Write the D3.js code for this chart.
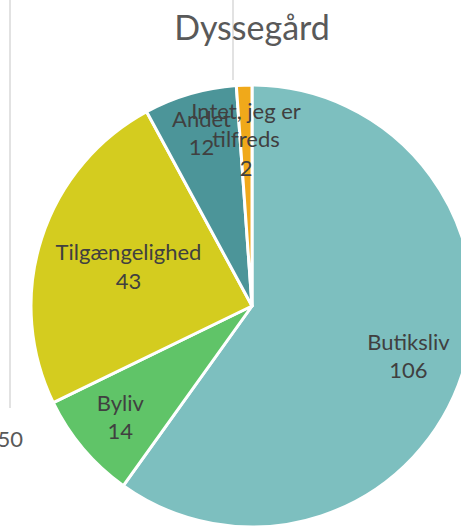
<!DOCTYPE html>
<html>
<head>
<meta charset="utf-8">
<script src="https://cdn.jsdelivr.net/npm/d3@7"></script>
<style>
  html, body { margin: 0; padding: 0; background: #fff; overflow: hidden; }
  svg { display: block; font-family: Lato, "Noto Sans", sans-serif; }
</style>
</head>
<body>
<div id="chart"></div>
<script>

var categories = ["Butiksliv", "Byliv", "Tilgængelighed", "Andet", "Intet, jeg er tilfreds"];
var values = [106, 14, 43, 12, 2];
var colors = ["#7dbfbf", "#60c468", "#d4cc1f", "#4c9599", "#f0a91a"];
// label lines as Excel wraps them
var labelLines = [["Butiksliv"], ["Byliv"], ["Tilgængelighed"], ["Andet"], ["Intet, jeg er", "tilfreds"]];

function drawPie(containerId){

    var width = 461, height = 529;
    var cx = 252, cy = 306, radius = 221;

    var svg = d3.select('#'+containerId).append("svg")
        .attr("width", width)
        .attr("height", height);

    // leftovers of the neighbouring chart
    svg.append("line")
        .attr("x1", 10).attr("x2", 10)
        .attr("y1", 0).attr("y2", 408)
        .style("stroke", "#d9d9d9")
        .style("stroke-width", 1.5);
    svg.append("line")
        .attr("x1", 233).attr("x2", 233)
        .attr("y1", 0).attr("y2", 80)
        .style("stroke", "#d9d9d9")
        .style("stroke-width", 1.5);
    svg.append("text")
        .attr("x", 23)
        .attr("y", 447)
        .attr("text-anchor", "end")
        .attr("font-size", 22)
        .attr("fill", "#595959")
        .text("50");

    svg.append("text")
        .attr("class", "title")
        .attr("x", 252)
        .attr("y", 40)
        .attr("text-anchor", "middle")
        .attr("font-size", 34)
        .attr("fill", "#595959")
        .text("Dyssegård");

    var data = categories.map(function(c, i){
        return {name: c, value: values[i], color: colors[i], lines: labelLines[i].concat([String(values[i])])};
    });

    var pie = d3.pie()
        .sort(null)
        .value(function(d){ return d.value; });

    var arc = d3.arc()
        .innerRadius(0)
        .outerRadius(radius);

    // how far out Excel's "best fit" put each label
    var labelRadius = {"Butiksliv": 0.743, "Byliv": 0.78, "Tilgængelighed": 0.587, "Andet": 0.815, "Intet, jeg er tilfreds": 0.754};

    var g = svg.append("g")
        .attr("transform", "translate(" + cx + "," + cy + ")");

    var arcs = pie(data);

    g.selectAll("path")
        .data(arcs)
        .join("path")
        .attr("d", arc)
        .attr("fill", function(d){ return d.data.color; })
        .attr("stroke", "#fff")
        .attr("stroke-width", 3)
        .attr("stroke-linejoin", "round");

    var lineH = 28.5;

    g.selectAll("text.label")
        .data(arcs)
        .join("text")
        .attr("class", "label")
        .attr("font-size", 22)
        .attr("fill", "#404040")
        .attr("text-anchor", "middle")
        .attr("transform", function(d){
            var r = radius * labelRadius[d.data.name];
            var c = d3.arc().innerRadius(r).outerRadius(r).centroid(d);
            return "translate(" + c[0] + "," + c[1] + ")";
        })
        .each(function(d){
            var t = d3.select(this);
            var n = d.data.lines.length;
            d.data.lines.forEach(function(line, i){
                t.append("tspan")
                    .attr("x", 0)
                    .attr("y", (i - (n - 1) / 2) * lineH + 8)
                    .text(line);
            });
        });
}

drawPie('chart');

</script>
</body>
</html>
